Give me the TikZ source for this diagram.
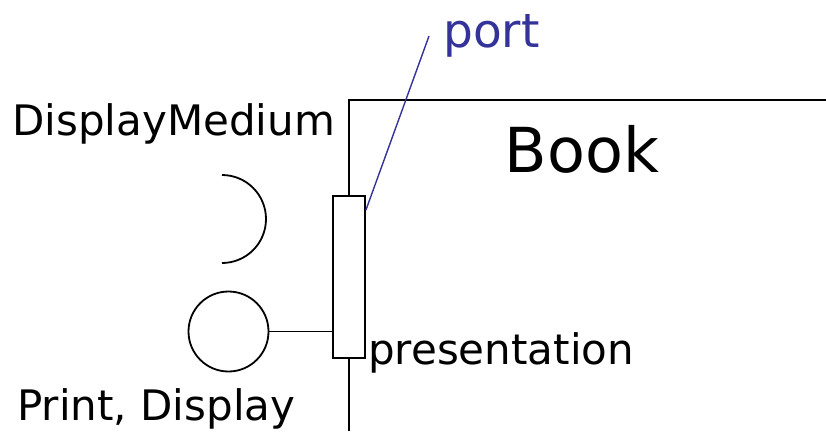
\documentclass[tikz,border=0pt]{standalone}
\usepackage{fontspec}
\setmainfont{DejaVu Sans}
\usepackage{xcolor}
\usepackage{tikz}
\usetikzlibrary{positioning,calc}
\definecolor{portblue}{HTML}{333399}
\tikzset{
  portbox/.style={draw,fill=white,line width=1.8pt,inner sep=0pt,
                  minimum width=32pt,minimum height=162pt},
  ball/.style={circle,draw,line width=1.8pt,inner sep=0pt,minimum size=80pt},
  wire/.style={line width=1.8pt},
  leader/.style={line width=1.4pt,portblue},
  lbl/.style={anchor=base west,inner sep=0pt,font=\fontsize{42}{50}\selectfont},
}
\begin{document}
\begin{tikzpicture}[x=1pt,y=-1pt]
  \useasboundingbox (0,0) rectangle (826,431);
  % Book component frame
  \coordinate (booktl) at (349,100);
  \node[portbox] (port) at (349,277) {};
  \draw[wire] (port.north) -- (booktl) -- (826,100);
  \draw[wire] (port.south) -- (349,431);
  \node[anchor=base,inner sep=0pt,font=\fontsize{62}{70}\selectfont]
    (book) at (582,172) {Book};
  % required interface (socket)
  \draw[wire] (222,175) arc[start angle=-90,end angle=90,radius=44];
  \node[lbl] (required) at (12,135) {DisplayMedium};
  % provided interface (ball)
  \node[ball] (print) at (228.5,331.5) {};
  \draw[wire] (print.east) -- (print.east -| port.west);
  \node[lbl] (provided) at (17,420) {Print, Display};
  \node[lbl] (presentation) at (368,364) {presentation};
  % port callout
  \coordinate (porttip) at (429,36);
  \draw[leader] (porttip) -- ([yshift=-15pt]port.north east);
  \node[anchor=base west,inner sep=0pt,portblue,
        font=\fontsize{47}{55}\selectfont] (portlbl) at (443,47) {port};
\end{tikzpicture}
\end{document}
